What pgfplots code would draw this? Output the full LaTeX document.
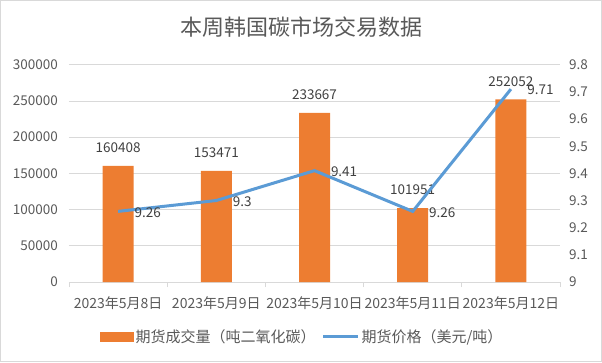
\documentclass[border=0pt]{standalone}
\usepackage{fontspec}
\setmainfont{Noto Sans CJK SC}
\usepackage{pgfplots}
\pgfplotsset{compat=1.18}
\usepackage{pgfplotstable}
\definecolor{barorange}{HTML}{ED7D31}
\definecolor{lineblue}{HTML}{5B9BD5}
\definecolor{gridgray}{HTML}{D9D9D9}
\definecolor{axistext}{HTML}{595959}
\definecolor{labeltext}{HTML}{404040}
\newcommand\tickfont{\fontsize{13.5}{16}\selectfont}
\newcommand\xfont{\fontsize{14}{16}\selectfont}
\newcommand\legfont{\fontsize{15}{17}\selectfont}

\pgfplotstableread{
x vol lab
0 160408 160408
1 153471 153471
2 233667 233667
3 101951 101951
4 252052 252052
}\voldata

\pgfplotstableread{
x price lab
0 9.26 9.26
1 9.30 9.3
2 9.41 9.41
3 9.26 9.26
4 9.71 9.71
}\pricedata

\begin{document}
\begin{tikzpicture}
\useasboundingbox (0pt,0pt) rectangle (602pt,362pt);
\draw[gridgray, line width=0.75pt] (0.5pt,0.5pt) rectangle (601.5pt,361.5pt);
\node[text=axistext, font=\fontsize{22}{26}\selectfont] at (301pt,335pt) {本周韩国碳市场交易数据};
\begin{axis}[
  at={(69pt,80pt)}, anchor=south west,
  scale only axis, width=491pt, height=217.3pt,
  xmin=-0.5, xmax=4.5, ymin=0, ymax=300000,
  axis line style={draw=none},
  xtick pos=bottom, ytick pos=left,
  xtick={0,1,2,3,4},
  xticklabels={2023年5月8日,2023年5月9日,2023年5月10日,2023年5月11日,2023年5月12日},
  ytick={0,50000,100000,150000,200000,250000,300000},
  scaled y ticks=false,
  major tick length=0pt,
  /pgf/number format/assume math mode=true,
  tick label style={font=\tickfont, text=axistext},
  yticklabel style={/pgf/number format/fixed, /pgf/number format/1000 sep={}, anchor=east, inner sep=0pt, xshift=-11pt},
  xticklabel style={font=\xfont, anchor=north, inner sep=0pt, yshift=-14pt},
  ymajorgrids, grid style={gridgray, line width=0.75pt},
  extra x ticks={-0.5,0.5,1.5,2.5,3.5,4.5},
  extra x tick labels={},
  extra x tick style={grid=none, major tick length=5pt, tick align=outside, tick style={gridgray, line width=0.75pt}},
  legend style={at={(0.4746,-0.253)}, anchor=center, draw=none, fill=none,
    legend columns=-1, font=\legfont, text=axistext,
    /tikz/every even column/.append style={column sep=4pt}},
]
\addplot[ybar, fill=barorange, draw=none, bar width=31pt,
  nodes near coords, point meta=explicit symbolic,
  every node near coord/.append style={font=\tickfont, text=labeltext, inner sep=0pt, anchor=south, yshift=13pt},
  legend image code/.code={\fill[barorange] (0pt,-5pt) rectangle (34pt,5pt);}]
  table[x=x, y=vol, meta=lab]{\voldata};
\addlegendentry{期货成交量（吨二氧化碳）}
\addlegendimage{legend image code/.code={\draw[lineblue, line width=3pt] (0pt,0pt) -- (35pt,0pt);}}
\addlegendentry{期货价格（美元/吨）}
\end{axis}
\begin{axis}[
  at={(69pt,80pt)}, anchor=south west,
  scale only axis, width=491pt, height=217.3pt,
  xmin=-0.5, xmax=4.5, ymin=9, ymax=9.8,
  hide x axis,
  axis y line*=right,
  y axis line style={draw=none},
  ytick={9,9.1,9.2,9.3,9.4,9.5,9.6,9.7,9.8},
  major tick length=0pt,
  /pgf/number format/assume math mode=true,
  yticklabel style={font=\tickfont, text=axistext, anchor=west, inner sep=0pt, xshift=9pt},
]
\addplot[lineblue, line width=3pt, mark=none,
  nodes near coords, point meta=explicit symbolic,
  every node near coord/.append style={font=\tickfont, text=labeltext, inner sep=0pt, anchor=west, xshift=15pt, yshift=-1pt}]
  table[x=x, y=price, meta=lab]{\pricedata};
\end{axis}
\end{tikzpicture}
\end{document}
